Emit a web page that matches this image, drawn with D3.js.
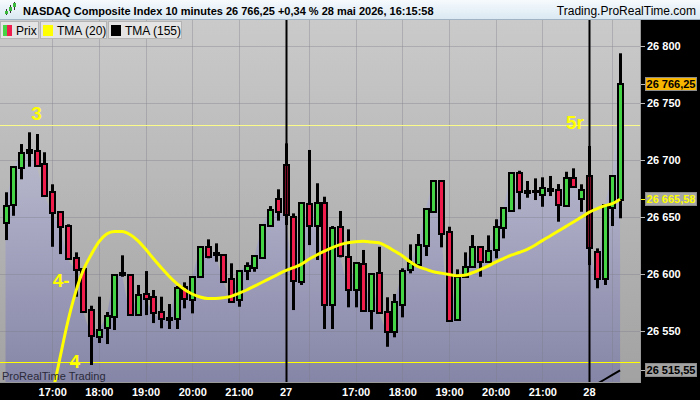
<!DOCTYPE html>
<html><head><meta charset="utf-8">
<script src="https://cdn.jsdelivr.net/npm/d3@7"></script>
<style>
html,body{margin:0;padding:0;background:#000;overflow:hidden;}
svg{display:block;font-family:"Liberation Sans",Arial,sans-serif;}
</style></head><body>
<svg id="c" width="700" height="400"></svg>
<script>
// ---- data ----
const sessions = [
  {day: "26", start: "16:00", bars: 36},
  {day: "27", start: "15:30", bars: 39},
  {day: "28", start: "15:30", bars: 5}
];
const open = [
26645.0,26660.5,26692.7,26705.9,26707.9,26696.2,26672.2,26654.1,26642.4,26613.8,
26604.4,26568.4,26544.5,26552.4,26562.5,26600.9,26599.1,26564.0,26582.2,26579.8,
26566.4,26559.6,26560.5,26588.3,26577.2,26597.1,26623.4,26618.4,26616.7,26595.3,
26577.2,26602.6,26605.5,26613.8,26642.1,26665.5,26695.6,26649.7,26593.2,26661.1,
26642.1,26662.0,26572.8,26641.0,26615.2,26586.0,26608.5,26567.8,26601.1,26566.4,
26549.4,26572.8,26603.5,26607.9,26624.6,26654.1,26681.8,26637.1,26559.6,26597.6,
26606.4,26623.9,26610.8,26621.1,26640.1,26655.3,26688.3,26672.8,26672.8,26669.3,
26674.3,26673.7,26659.9,26684.5,26665.8,26686.0,26619.6,26595.3,26657.6,26664.9];
const high = [
26671.7,26694.7,26714.0,26724.3,26722.8,26706.8,26678.7,26654.6,26643.6,26619.0,
26605.0,26572.2,26580.1,26566.7,26600.0,26616.4,26600.0,26590.4,26602.6,26586.0,
26580.1,26573.7,26589.5,26592.7,26597.6,26624.5,26630.4,26626.9,26617.5,26609.4,
26603.5,26610.3,26616.3,26643.6,26659.6,26674.3,26714.6,26653.2,26662.9,26708.8,
26679.6,26667.8,26642.1,26655.3,26639.2,26609.9,26621.1,26600.5,26623.9,26579.6,
26582.5,26605.0,26626.0,26635.1,26657.0,26682.0,26682.0,26641.5,26604.1,26619.0,
26634.2,26624.5,26633.9,26648.0,26658.0,26688.9,26690.6,26681.6,26683.9,26684.8,
26686.0,26678.9,26689.7,26692.7,26678.7,26712.3,26622.5,26661.0,26686.8,26793.6];
const low = [
26629.8,26651.1,26683.1,26694.1,26694.5,26667.8,26623.9,26617.5,26612.3,26580.1,
26566.1,26520.2,26539.5,26538.6,26550.9,26597.6,26563.5,26563.6,26564.0,26557.0,
26552.4,26551.8,26551.8,26569.9,26565.5,26596.5,26613.8,26610.8,26593.0,26574.8,
26571.3,26594.7,26602.0,26613.3,26641.6,26646.8,26643.0,26568.4,26590.4,26625.4,
26612.3,26551.8,26551.8,26614.6,26570.8,26570.8,26567.5,26551.5,26565.4,26536.2,
26544.5,26562.0,26600.6,26607.6,26615.8,26653.9,26623.4,26558.3,26559.3,26597.3,
26606.1,26597.6,26610.5,26613.8,26631.3,26655.0,26656.8,26666.9,26664.9,26659.0,
26668.4,26645.9,26659.6,26676.3,26654.6,26607.9,26587.5,26590.4,26642.1,26648.9];
const close = [
26659.6,26693.6,26705.9,26708.8,26695.0,26668.7,26653.8,26641.5,26612.9,26603.5,
26566.7,26545.9,26550.9,26563.2,26599.4,26599.1,26564.0,26581.6,26578.1,26565.5,
26560.3,26561.7,26588.0,26578.1,26597.1,26623.9,26615.2,26616.7,26593.2,26575.7,
26602.9,26607.0,26615.8,26643.0,26656.1,26654.6,26651.8,26593.9,26662.5,26642.4,
26662.5,26572.8,26640.1,26615.8,26586.0,26609.4,26567.8,26600.0,26565.5,26549.4,
26575.7,26602.9,26609.4,26625.4,26656.8,26681.8,26634.8,26558.8,26597.6,26606.4,
26623.9,26610.8,26620.4,26641.5,26657.6,26688.3,26672.2,26671.1,26671.9,26675.7,
26672.8,26660.5,26684.5,26676.6,26673.7,26622.5,26595.3,26660.5,26686.0,26766.25];
const tma20 = [null,null,null,null,null,null,
26493.9,26526.3,26557.9,26583.7,26603.4,26616.8,26628.2,26635.0,26637.3,26637.3,
26634.6,26629.3,26621.9,26613.6,26605.7,26598.3,26591.7,26586.5,26582.5,26579.9,
26578.6,26578.6,26579.2,26580.4,26583.1,26586.0,26589.4,26592.8,26596.2,26599.6,
26602.9,26605.6,26608.5,26612.9,26616.7,26620.1,26623.2,26625.8,26627.5,26628.4,
26628.7,26628.1,26627.5,26624.2,26620.2,26616.1,26610.7,26606.6,26604.3,26602.0,
26600.8,26599.6,26598.5,26598.9,26601.1,26603.9,26607.0,26610.4,26613.5,26616.5,
26618.9,26621.5,26625.0,26629.3,26633.4,26637.5,26641.6,26645.6,26649.8,26654.1,
26657.2,26659.9,26661.7,26665.58];
const tma155 = Array(76).fill(null).concat([26503.5,26507.5,26511.5,26515.55]);
const yTicks = [26550, 26600, 26650, 26700, 26750, 26800];
const labelTicks = [6,12,18,24,30,36,45,51,57,63,69,75];
const gridTicks = [6,12,18,24,30,39,45,51,57,63,69,78];
const dayTicks = [36,75];
const levels = [26730.7, 26522.8];
const notes = [
  {t:"3", i:3.98, p:26741},
  {t:"4-", i:7.15, p:26594},
  {t:"4", i:8.9, p:26523.5},
  {t:"5r", i:73.2, p:26732.5}
];
const title = "NASDAQ Composite Index 10 minutes 26 766,25 +0,34 % 28 mai 2026, 16:15:58";
const site = "Trading.ProRealTime.com";
const legendItems = [{name:"Prix"},{name:"TMA (20)", col:"#ffff00"},{name:"TMA (155)", col:"#000000"}];

// ---- derived categories ----
const times = [];
sessions.forEach(s => {
  let [h, m] = s.start.split(":").map(Number);
  for (let k = 0; k < s.bars; k++) {
    times.push({day: s.day, label: (k === 0 ? s.day : String(h).padStart(2,"0") + ":" + String(m).padStart(2,"0"))});
    m += 10; if (m >= 60) { m -= 60; h++; }
  }
});

// ---- layout ----
const L = 0, R = 640, T = 20, B = 382;
const GREEN = "#45d446", RED = "#ee1d4c";
const svg = d3.select("#c");
const defs = svg.append("defs");
function lg(id, stops, y1, y2) {
  const g = defs.append("linearGradient").attr("id", id).attr("gradientUnits", "userSpaceOnUse")
    .attr("x1", 0).attr("x2", 0).attr("y1", y1).attr("y2", y2);
  stops.forEach(s => g.append("stop").attr("offset", s[0]).attr("stop-color", s[1]));
}
lg("hdr", [[0, "#f6fafd"], [1, "#d9e8f2"]], 0, 20);
lg("bg", [[0, "#cacaca"], [1, "#a2a2a2"]], T, B);
lg("area", [[0, "#c6c6d2"], [0.45, "#a9a9c3"], [1, "#8585a7"]], 90, B);
defs.append("clipPath").attr("id", "clip").append("rect")
  .attr("x", L).attr("y", T).attr("width", R - L).attr("height", B - T);

const x = d3.scaleLinear().domain([0, times.length - 1]).range([5.5, 620.1]);
const y = d3.scaleLinear().domain([26505.3, 26822.8]).range([B, T]);
const fr = d3.formatLocale({decimal: ",", thousands: " ", grouping: [3], currency: ["", ""]});
const f0 = fr.format(",.0f"), f2 = fr.format(",.2f");

svg.append("rect").attr("width", 700).attr("height", 400).attr("fill", "#000");
svg.append("rect").attr("width", 700).attr("height", 20).attr("fill", "url(#hdr)");
svg.append("line").attr("x1", 0).attr("x2", 700).attr("y1", 19.5).attr("y2", 19.5).attr("stroke", "#9fb3c3");

const plot = svg.append("g").attr("clip-path", "url(#clip)");
plot.append("rect").attr("x", L).attr("y", T).attr("width", R - L).attr("height", B - T).attr("fill", "url(#bg)");

const idx = d3.range(times.length);
plot.append("path").datum(idx)
  .attr("d", d3.area().x(i => x(i)).y0(B).y1(i => y(close[i])))
  .attr("fill", "url(#area)");

// grid
plot.append("g").selectAll("line").data(yTicks).join("line")
  .attr("x1", L).attr("x2", R).attr("y1", d => Math.round(y(d)) + 0.5).attr("y2", d => Math.round(y(d)) + 0.5)
  .attr("stroke", "#7a7a86").attr("stroke-opacity", 0.35);
plot.append("g").selectAll("line").data(gridTicks).join("line")
  .attr("x1", d => Math.round(x(d)) + 0.5).attr("x2", d => Math.round(x(d)) + 0.5).attr("y1", T).attr("y2", B)
  .attr("stroke", "#7a7a86").attr("stroke-opacity", 0.35);

// horizontal levels
plot.append("g").selectAll("line").data(levels).join("line")
  .attr("x1", L).attr("x2", R).attr("y1", d => Math.round(y(d)) + 0.5).attr("y2", d => Math.round(y(d)) + 0.5)
  .attr("stroke", (d, k) => k === 0 ? "#fbfb8a" : "#ffff00").attr("stroke-width", 1);

// candles
const cg = plot.append("g");
const cx = i => Math.round(x(i));
cg.selectAll("rect.w").data(idx).join("rect").attr("class", "w")
  .attr("x", i => cx(i) - 1).attr("width", 3)
  .attr("y", i => y(high[i])).attr("height", i => Math.max(1, y(low[i]) - y(high[i])))
  .attr("fill", "#000");
const top_ = i => Math.round(y(Math.max(open[i], close[i])));
const bot_ = i => Math.round(y(Math.min(open[i], close[i])));
cg.selectAll("rect.b").data(idx).join("rect").attr("class", "b")
  .attr("x", i => cx(i) - 3).attr("width", 7)
  .attr("y", i => top_(i) - 1).attr("height", i => Math.max(3, bot_(i) - top_(i) + 2))
  .attr("fill", "#000");
cg.selectAll("rect.c").data(idx.filter(i => bot_(i) - top_(i) > 3)).join("rect").attr("class", "c")
  .attr("x", i => cx(i) - 1).attr("width", 3)
  .attr("y", i => top_(i) + 1).attr("height", i => bot_(i) - top_(i) - 2)
  .attr("fill", i => close[i] >= open[i] ? GREEN : RED);

// day separators
plot.append("g").selectAll("line").data(dayTicks).join("line")
  .attr("x1", d => cx(d) + 0.5).attr("x2", d => cx(d) + 0.5).attr("y1", T).attr("y2", B)
  .attr("stroke", "#000").attr("stroke-width", 2);

// moving averages
plot.append("path").datum(idx.filter(i => tma155[i] != null))
  .attr("d", d3.line().x(i => x(i)).y(i => y(tma155[i])))
  .attr("fill", "none").attr("stroke", "#000").attr("stroke-width", 2);
plot.append("path").datum(idx.filter(i => tma20[i] != null))
  .attr("d", d3.line().curve(d3.curveMonotoneX).x(i => x(i)).y(i => y(tma20[i])))
  .attr("fill", "none").attr("stroke", "#ffff00").attr("stroke-width", 3);

// notes
plot.append("g").selectAll("text").data(notes).join("text")
  .attr("x", d => x(d.i)).attr("y", d => y(d.p))
  .attr("text-anchor", "middle").attr("dominant-baseline", "central")
  .attr("font-size", 19).attr("font-weight", "bold").attr("fill", "#ffff00").text(d => d.t);

plot.append("text").attr("x", 2).attr("y", 380).attr("font-size", 11).attr("fill", "#2a2a3a").text("ProRealTime Trading");

// borders
svg.append("line").attr("x1", 0).attr("x2", R).attr("y1", B + 0.5).attr("y2", B + 0.5).attr("stroke", "#9a9a9a");
svg.append("line").attr("x1", R + 0.5).attr("x2", R + 0.5).attr("y1", T).attr("y2", B + 1).attr("stroke", "#9a9a9a");

// legend
const lgG = svg.append("g");
const lgBoxes = [[0, 39], [40, 107], [108, 182]];
lgBoxes.forEach((b, k) => {
  lgG.append("rect").attr("x", b[0] + 0.5).attr("y", 21.5).attr("width", b[1] - b[0] - 1).attr("height", 17)
    .attr("fill", "#e4e4e4").attr("stroke", "#b4b4b4");
  const it = legendItems[k];
  if (k === 0) {
    lgG.append("rect").attr("x", 3).attr("y", 25).attr("width", 4).attr("height", 11).attr("fill", GREEN);
    lgG.append("rect").attr("x", 7).attr("y", 25).attr("width", 5).attr("height", 11).attr("fill", RED);
  } else {
    lgG.append("rect").attr("x", b[0] + 3).attr("y", 25).attr("width", 10).attr("height", 11).attr("fill", it.col);
  }
  lgG.append("text").attr("x", k === 0 ? 16 : b[0] + 17).attr("y", 35).attr("font-size", 12).attr("fill", "#000").text(it.name);
});

// header
const ic = svg.append("g");
[[6, 9, 15, 11, 14], [10, 5, 13, 7, 11], [14, 2, 10, 3, 7]].forEach(c => {
  ic.append("rect").attr("x", c[0]).attr("y", c[1]).attr("width", 1).attr("height", c[2] - c[1]).attr("fill", "#333");
  ic.append("rect").attr("x", c[0] - 1).attr("y", c[3]).attr("width", 3).attr("height", c[4] - c[3]).attr("fill", "#3cb83c");
});
svg.append("text").attr("x", 23).attr("y", 14.5).attr("font-size", 11).attr("font-weight", "bold").attr("fill", "#000").text(title);
svg.append("text").attr("x", 696).attr("y", 14.5).attr("text-anchor", "end").attr("font-size", 12).attr("fill", "#000").text(site);

// y axis
const ya = svg.append("g").attr("transform", `translate(${R},0)`)
  .call(d3.axisRight(y).tickValues(yTicks).tickSize(5).tickPadding(2).tickFormat(f0));
ya.select(".domain").remove();
ya.selectAll("line").attr("stroke", "#bdbdbd");
ya.selectAll("text").attr("fill", "#fff").attr("font-size", 11).attr("font-weight", "bold").attr("font-family", "Liberation Sans, Arial, sans-serif");

// x axis
const xa = svg.append("g").attr("transform", `translate(0,${B})`)
  .call(d3.axisBottom(x).tickValues(labelTicks).tickSize(0).tickPadding(6).tickFormat(i => times[i].label));
xa.select(".domain").remove();
xa.selectAll("text").attr("fill", "#fff").attr("font-size", 11).attr("font-weight", "bold").attr("font-family", "Liberation Sans, Arial, sans-serif");

// price tags
const tags = [
  {v: close[close.length - 1], fill: "#f7b500", txt: "#000"},
  {v: tma20[tma20.length - 1], fill: "#a6a6a6", txt: "#ffff00"},
  {v: tma155[tma155.length - 1], fill: "#a2a2a2", txt: "#000"}
];
const tg = svg.append("g").selectAll("g").data(tags).join("g")
  .attr("transform", d => `translate(0,${Math.round(y(d.v))})`);
tg.append("line").attr("x1", R + 1).attr("x2", 645).attr("y1", 0.5).attr("y2", 0.5).attr("stroke", d => d.txt === "#ffff00" ? "#ffff00" : "#bdbdbd");
tg.append("rect").attr("x", 645.5).attr("y", -6.5).attr("width", 51).attr("height", 13)
  .attr("fill", d => d.fill).attr("stroke", "#8c8c8c");
tg.append("text").attr("x", 671).attr("y", 0).attr("dy", "0.36em").attr("text-anchor", "middle")
  .attr("font-size", 11).attr("font-weight", "bold").attr("fill", d => d.txt).text(d => f2(d.v));
</script>
</body></html>
